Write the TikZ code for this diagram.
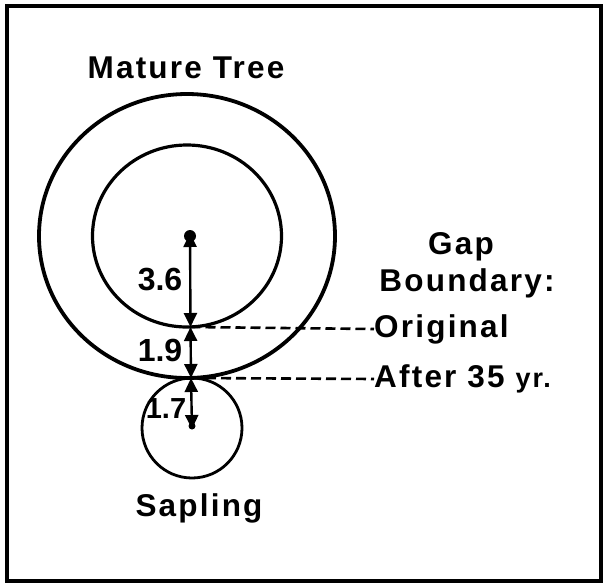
\documentclass[tikz,border=0pt]{standalone}
\usepackage{fontspec}
\setmainfont{Liberation Sans}
\usetikzlibrary{arrows.meta}
\begin{document}
\begin{tikzpicture}[x=1pt,y=-1pt,
  lbl/.style={font=\fontsize{31.5}{34}\selectfont\bfseries\addfontfeatures{LetterSpace=7}, inner sep=0pt},
  num/.style={font=\fontsize{32}{34}\selectfont\bfseries, inner sep=0pt},
  dim/.style={line width=2.4pt, {Triangle[length=14pt,width=13pt]}-{Triangle[length=14pt,width=13pt]}},
  gapline/.style={line width=2.6pt, dash pattern=on 10pt off 5pt}]
\useasboundingbox (0,0) rectangle (608,587);
\draw[line width=3.6pt] (7,6) rectangle (601,581);
% circles
\coordinate (mc) at (187,236);
\coordinate (sc) at (192,428);
\draw[line width=3.8pt] (mc) ellipse (148 and 142);
\draw[line width=3.2pt] (mc) ellipse (94.5 and 91);
\draw[line width=2.8pt] (sc) circle (50);
% points
\coordinate (top) at (190,236);
\coordinate (p1) at (190.5,327);
\coordinate (p2) at (191,378);
\coordinate (sd) at (192,426);
\fill (top) circle (6);
\fill (sd) circle (3.5);
\draw[dim] ([yshift=3pt]top) -- (p1);
\draw[dim] (p1) -- (p2);
\draw[dim] (p2) -- ([yshift=-3pt]sd);
% labels
\node[num] (n36) at (160,280) {3.6};
\node[num] (n19) at (160,350) {1.9};
\node[num, font=\fontsize{29}{30}\selectfont\bfseries] (n17) at (166,409) {1.7};
\node[lbl] (mature) at (186,68) {Mature Tree};
\node[lbl] (sapling) at (199,508) {Sapling};
\node[lbl] (gap) at (461,247) {Gap};
\node[lbl] (bound) at (467,283) {Boundary:};
\node[lbl, anchor=west] (orig) at (374,329) {Original};
\node[lbl, anchor=west] (after) at (374,379) {After 35 {\fontsize{27}{30}\selectfont yr.}};
\draw[gapline] (p1) -- (orig.west);
\draw[gapline] (p2) -- (after.west);
\end{tikzpicture}
\end{document}
